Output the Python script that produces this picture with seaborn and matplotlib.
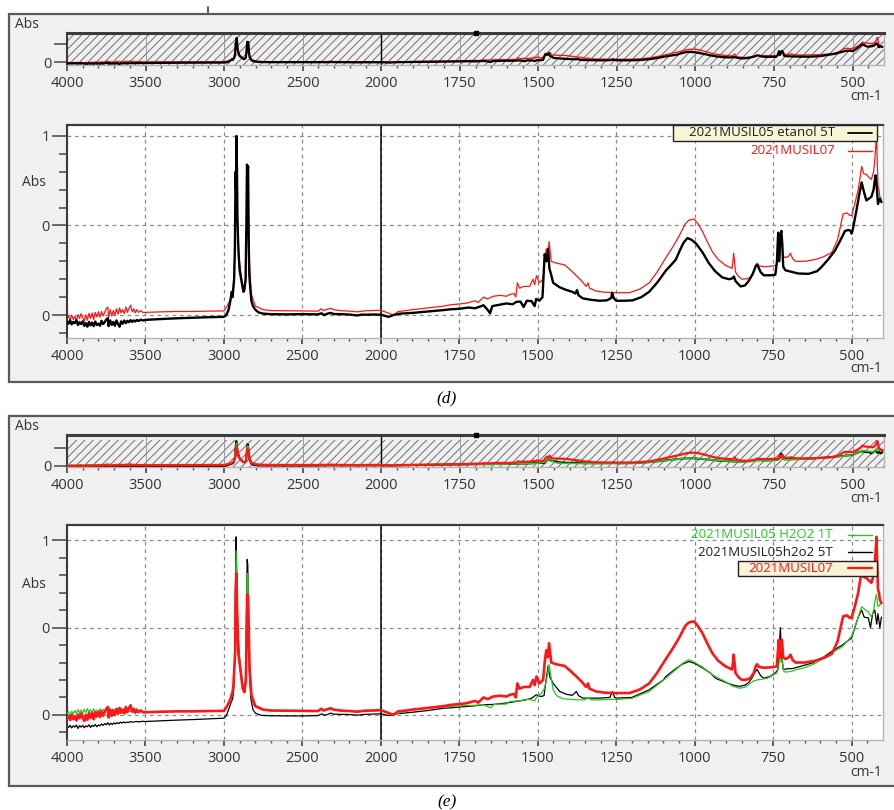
import numpy as np
import pandas as pd
import matplotlib
matplotlib.use("Agg")
import matplotlib.pyplot as plt
import seaborn as sns
from matplotlib.patches import Rectangle
from matplotlib.lines import Line2D
from matplotlib.ticker import FixedLocator, FixedFormatter, NullFormatter

# ---------------------------------------------------------------- spectra (wavenumber, absorbance)
spec_etanol5t = [
    (4000, -0.035), (3990, -0.048), (3980, -0.030), (3970, -0.052), (3960, -0.038), (3950, -0.045),
    (3940, -0.028), (3930, -0.055), (3920, -0.040), (3910, -0.050), (3900, -0.035), (3890, -0.060),
    (3880, -0.045), (3870, -0.065), (3860, -0.038), (3850, -0.058), (3840, -0.042), (3830, -0.062),
    (3820, -0.036), (3810, -0.055), (3800, -0.048), (3790, -0.060), (3780, -0.032), (3770, -0.050),
    (3760, -0.040), (3750, -0.025), (3740, -0.018), (3735, -0.062), (3725, -0.030), (3715, -0.055),
    (3705, -0.038), (3695, -0.060), (3685, -0.030), (3675, -0.050), (3665, -0.065), (3655, -0.035),
    (3645, -0.048), (3635, -0.030), (3625, -0.045), (3615, -0.032), (3605, -0.040), (3595, -0.028),
    (3585, -0.038), (3575, -0.030), (3565, -0.036), (3555, -0.027), (3545, -0.033), (3530, -0.026),
    (3515, -0.030), (3500, -0.027), (3400, -0.022), (3300, -0.018), (3200, -0.015), (3100, -0.012),
    (3000, -0.010), (2985, 0.000), (2970, 0.030), (2960, 0.075), (2950, 0.130), (2945, 0.100),
    (2940, 0.150), (2935, 0.200), (2930, 0.380), (2926, 0.800), (2923, 0.700), (2920, 1.000),
    (2917, 0.820), (2914, 0.550), (2910, 0.420), (2905, 0.320), (2900, 0.250), (2890, 0.200),
    (2880, 0.150), (2875, 0.130), (2870, 0.140), (2862, 0.200), (2857, 0.500), (2853, 0.840),
    (2850, 0.800), (2846, 0.830), (2842, 0.400), (2838, 0.220), (2832, 0.150), (2825, 0.080),
    (2815, 0.050), (2800, 0.030), (2780, 0.015), (2750, 0.008), (2700, 0.005), (2600, 0.004),
    (2500, 0.005), (2400, 0.004), (2380, 0.010), (2360, 0.000), (2340, 0.008), (2320, 0.012),
    (2300, 0.006), (2250, 0.005), (2200, 0.003), (2150, -0.002), (2120, 0.003), (2100, 0.002),
    (2050, 0.003), (2000, 0.002), (1975, -0.010), (1960, 0.000), (1940, 0.008), (1900, 0.012),
    (1850, 0.020), (1800, 0.028), (1779, 0.032), (1750, 0.035), (1720, 0.042), (1700, 0.038),
    (1680, 0.050), (1673, 0.055), (1660, 0.030), (1652, 0.010), (1645, 0.050), (1620, 0.058),
    (1600, 0.065), (1580, 0.060), (1568, 0.074), (1555, 0.075), (1545, 0.045), (1535, 0.080),
    (1520, 0.078), (1510, 0.050), (1505, 0.090), (1495, 0.080), (1485, 0.100), (1478, 0.340),
    (1472, 0.300), (1467, 0.370), (1463, 0.260), (1458, 0.230), (1451, 0.180), (1430, 0.155),
    (1409, 0.140), (1390, 0.130), (1380, 0.120), (1375, 0.140), (1370, 0.110), (1356, 0.093),
    (1330, 0.085), (1303, 0.080), (1280, 0.082), (1266, 0.095), (1263, 0.125), (1258, 0.095),
    (1250, 0.080), (1225, 0.080), (1198, 0.082), (1170, 0.100), (1145, 0.130), (1120, 0.180),
    (1091, 0.250), (1075, 0.280), (1060, 0.310), (1045, 0.370), (1035, 0.405), (1023, 0.430),
    (1010, 0.420), (996, 0.400), (975, 0.350), (955, 0.290), (935, 0.245), (912, 0.210),
    (890, 0.200), (880, 0.205), (875, 0.215), (870, 0.190), (854, 0.160), (840, 0.165),
    (828, 0.190), (815, 0.230), (805, 0.275), (800, 0.280), (790, 0.240), (780, 0.222),
    (760, 0.222), (743, 0.225), (738, 0.300), (734, 0.460), (731, 0.300), (727, 0.440),
    (724, 0.470), (721, 0.400), (718, 0.270), (711, 0.250), (700, 0.245), (690, 0.240),
    (670, 0.232), (637, 0.230), (610, 0.245), (595, 0.270), (575, 0.310), (553, 0.360),
    (535, 0.420), (521, 0.470), (510, 0.475), (503, 0.470), (500, 0.455), (496, 0.480),
    (484, 0.590), (475, 0.680), (468, 0.740), (461, 0.690), (453, 0.640), (445, 0.650),
    (437, 0.660), (430, 0.700), (424, 0.780), (421, 0.740), (416, 0.620), (413, 0.640),
    (410, 0.650), (405, 0.630),
]

spec_musil07 = [
    (4000, -0.020), (3990, -0.005), (3980, -0.030), (3970, 0.000), (3960, -0.025), (3950, -0.008),
    (3940, -0.032), (3930, 0.002), (3920, -0.020), (3910, 0.008), (3900, -0.015), (3890, -0.035),
    (3880, 0.000), (3870, -0.028), (3860, 0.010), (3850, -0.018), (3840, 0.012), (3830, -0.025),
    (3820, 0.015), (3810, -0.010), (3800, 0.018), (3790, -0.012), (3780, 0.020), (3770, -0.005),
    (3760, 0.015), (3750, 0.035), (3740, 0.045), (3735, -0.015), (3725, 0.030), (3715, -0.005),
    (3705, 0.025), (3695, 0.000), (3685, 0.035), (3675, 0.005), (3665, 0.040), (3655, 0.012),
    (3645, 0.030), (3635, 0.008), (3625, 0.045), (3615, 0.015), (3605, 0.038), (3595, 0.055),
    (3585, 0.018), (3575, 0.035), (3565, 0.012), (3555, 0.030), (3545, 0.015), (3530, 0.025),
    (3515, 0.014), (3500, 0.015), (3400, 0.018), (3300, 0.020), (3200, 0.020), (3100, 0.022),
    (3000, 0.023), (2980, 0.050), (2960, 0.086), (2945, 0.130), (2940, 0.160), (2932, 0.300),
    (2928, 0.370), (2925, 0.700), (2920, 0.810), (2916, 0.600), (2908, 0.350), (2895, 0.260),
    (2880, 0.150), (2870, 0.130), (2860, 0.200), (2855, 0.500), (2852, 0.690), (2846, 0.680),
    (2840, 0.400), (2836, 0.260), (2825, 0.115), (2800, 0.050), (2750, 0.030), (2700, 0.025),
    (2600, 0.024), (2500, 0.023), (2400, 0.022), (2380, 0.035), (2365, 0.025), (2350, 0.030),
    (2320, 0.038), (2300, 0.030), (2250, 0.024), (2200, 0.022), (2150, 0.018), (2100, 0.024),
    (2050, 0.025), (2000, 0.027), (1975, 0.010), (1960, 0.000), (1945, 0.020), (1920, 0.025),
    (1900, 0.030), (1850, 0.040), (1800, 0.050), (1779, 0.057), (1750, 0.062), (1726, 0.067),
    (1700, 0.080), (1690, 0.070), (1673, 0.100), (1660, 0.090), (1642, 0.105), (1620, 0.110),
    (1600, 0.105), (1589, 0.115), (1575, 0.120), (1570, 0.100), (1565, 0.180), (1558, 0.150),
    (1545, 0.160), (1526, 0.160), (1515, 0.200), (1510, 0.170), (1504, 0.220), (1495, 0.180),
    (1483, 0.200), (1478, 0.300), (1473, 0.370), (1468, 0.330), (1464, 0.410), (1457, 0.300),
    (1441, 0.290), (1414, 0.280), (1395, 0.250), (1377, 0.220), (1360, 0.190), (1346, 0.160),
    (1340, 0.180), (1335, 0.150), (1314, 0.134), (1290, 0.128), (1261, 0.125), (1235, 0.125),
    (1208, 0.125), (1175, 0.145), (1145, 0.180), (1120, 0.240), (1092, 0.320), (1070, 0.380),
    (1050, 0.440), (1030, 0.510), (1018, 0.530), (1002, 0.536), (990, 0.510), (976, 0.470),
    (960, 0.410), (944, 0.354), (925, 0.310), (902, 0.278), (881, 0.260), (878, 0.300),
    (876, 0.345), (873, 0.300), (870, 0.240), (860, 0.215), (849, 0.200), (835, 0.202),
    (823, 0.210), (812, 0.240), (805, 0.280), (801, 0.290), (795, 0.275), (780, 0.270),
    (760, 0.272), (738, 0.278), (735, 0.360), (732, 0.430), (729, 0.330), (725, 0.420),
    (722, 0.430), (718, 0.330), (711, 0.320), (700, 0.330), (695, 0.345), (688, 0.315),
    (679, 0.300), (650, 0.300), (616, 0.310), (590, 0.325), (563, 0.350), (545, 0.420),
    (535, 0.500), (527, 0.565), (515, 0.570), (505, 0.555), (500, 0.556), (490, 0.620),
    (479, 0.700), (472, 0.780), (468, 0.830), (462, 0.790), (453, 0.785), (445, 0.770),
    (437, 0.757), (430, 0.800), (426, 0.870), (423, 0.950), (421, 1.020), (419, 0.900),
    (416, 0.720), (413, 0.700), (410, 0.660), (405, 0.640),
]

spec_h2o2_5t = [
    (4000, -0.065), (3990, -0.072), (3980, -0.060), (3970, -0.075), (3960, -0.063), (3950, -0.070),
    (3940, -0.058), (3930, -0.078), (3920, -0.062), (3910, -0.070), (3900, -0.060), (3890, -0.074),
    (3880, -0.063), (3870, -0.068), (3860, -0.057), (3850, -0.072), (3840, -0.060), (3830, -0.066),
    (3820, -0.055), (3810, -0.068), (3800, -0.058), (3790, -0.063), (3780, -0.052), (3770, -0.060),
    (3760, -0.050), (3750, -0.057), (3740, -0.045), (3730, -0.058), (3720, -0.048), (3710, -0.055),
    (3700, -0.046), (3690, -0.052), (3680, -0.044), (3670, -0.050), (3660, -0.042), (3650, -0.047),
    (3640, -0.040), (3630, -0.046), (3620, -0.041), (3610, -0.044), (3600, -0.039), (3580, -0.042),
    (3560, -0.038), (3540, -0.040), (3520, -0.037), (3500, -0.038), (3400, -0.034), (3300, -0.030),
    (3200, -0.027), (3100, -0.023), (3000, -0.019), (2985, -0.005), (2970, 0.030), (2955, 0.070),
    (2945, 0.090), (2938, 0.140), (2930, 0.350), (2926, 0.800), (2922, 1.020), (2918, 0.780),
    (2912, 0.500), (2905, 0.380), (2895, 0.250), (2880, 0.160), (2870, 0.130), (2862, 0.180),
    (2856, 0.550), (2852, 0.890), (2848, 0.860), (2843, 0.500), (2838, 0.250), (2828, 0.090),
    (2815, 0.030), (2800, 0.010), (2760, -0.003), (2700, -0.005), (2600, -0.006), (2500, -0.006),
    (2400, -0.004), (2375, 0.006), (2360, -0.002), (2340, 0.002), (2320, 0.010), (2300, 0.004),
    (2200, 0.002), (2150, -0.002), (2100, 0.003), (2000, 0.006), (1975, -0.004), (1960, 0.004),
    (1900, 0.015), (1850, 0.025), (1800, 0.038), (1779, 0.040), (1750, 0.045), (1700, 0.052),
    (1673, 0.058), (1640, 0.060), (1600, 0.068), (1568, 0.077), (1540, 0.085), (1520, 0.095),
    (1505, 0.115), (1490, 0.105), (1480, 0.110), (1472, 0.220), (1467, 0.280), (1462, 0.220),
    (1451, 0.180), (1430, 0.134), (1409, 0.118), (1390, 0.112), (1377, 0.134), (1370, 0.110),
    (1356, 0.096), (1303, 0.096), (1270, 0.100), (1262, 0.134), (1255, 0.100), (1250, 0.096),
    (1200, 0.100), (1145, 0.144), (1100, 0.200), (1092, 0.220), (1060, 0.265), (1040, 0.290),
    (1018, 0.306), (1000, 0.295), (976, 0.270), (950, 0.240), (934, 0.210), (900, 0.185),
    (880, 0.172), (859, 0.163), (840, 0.170), (828, 0.185), (818, 0.210), (808, 0.245),
    (801, 0.260), (790, 0.225), (780, 0.210), (760, 0.220), (743, 0.240), (735, 0.260),
    (730, 0.400), (727, 0.500), (724, 0.360), (718, 0.260), (700, 0.265), (690, 0.265),
    (679, 0.270), (650, 0.285), (620, 0.300), (616, 0.310), (590, 0.330), (563, 0.364),
    (530, 0.400), (500, 0.440), (490, 0.500), (479, 0.560), (468, 0.600), (460, 0.560),
    (447, 0.556), (440, 0.500), (433, 0.580), (426, 0.600), (420, 0.520), (416, 0.580),
    (410, 0.500), (405, 0.560),
]

spec_h2o2_1t = [
    (4000, 0.005), (3990, 0.018), (3980, -0.002), (3970, 0.022), (3960, 0.004), (3950, 0.025),
    (3940, 0.008), (3930, 0.030), (3920, 0.010), (3910, 0.028), (3900, 0.006), (3890, 0.032),
    (3880, 0.012), (3870, 0.036), (3860, 0.015), (3850, 0.030), (3840, 0.010), (3830, 0.034),
    (3820, 0.014), (3810, 0.028), (3800, 0.012), (3790, 0.035), (3780, 0.016), (3770, 0.032),
    (3760, 0.018), (3750, 0.040), (3740, 0.022), (3730, 0.038), (3720, 0.016), (3710, 0.034),
    (3700, 0.020), (3690, 0.036), (3680, 0.014), (3670, 0.030), (3660, 0.018), (3650, 0.033),
    (3640, 0.016), (3630, 0.030), (3620, 0.018), (3610, 0.028), (3600, 0.020), (3580, 0.025),
    (3560, 0.017), (3540, 0.022), (3520, 0.016), (3500, 0.015), (3400, 0.018), (3300, 0.020),
    (3200, 0.021), (3100, 0.022), (3000, 0.023), (2980, 0.050), (2960, 0.090), (2945, 0.140),
    (2935, 0.200), (2930, 0.420), (2926, 0.700), (2922, 0.940), (2918, 0.720), (2912, 0.420),
    (2900, 0.330), (2890, 0.250), (2880, 0.160), (2870, 0.130), (2862, 0.200), (2856, 0.520),
    (2852, 0.810), (2847, 0.790), (2842, 0.450), (2837, 0.260), (2826, 0.110), (2810, 0.060),
    (2800, 0.048), (2760, 0.030), (2700, 0.024), (2600, 0.023), (2500, 0.022), (2400, 0.021),
    (2380, 0.032), (2360, 0.024), (2320, 0.034), (2300, 0.028), (2200, 0.021), (2100, 0.022),
    (2000, 0.025), (1960, 0.002), (1900, 0.030), (1850, 0.040), (1800, 0.046), (1779, 0.048),
    (1750, 0.052), (1700, 0.055), (1673, 0.058), (1650, 0.040), (1640, 0.060), (1600, 0.062),
    (1589, 0.077), (1560, 0.080), (1530, 0.090), (1510, 0.080), (1504, 0.100), (1490, 0.120),
    (1480, 0.145), (1472, 0.200), (1464, 0.290), (1458, 0.220), (1451, 0.145), (1440, 0.110),
    (1420, 0.092), (1400, 0.090), (1377, 0.086), (1350, 0.086), (1340, 0.100), (1330, 0.086),
    (1303, 0.086), (1260, 0.090), (1250, 0.088), (1200, 0.095), (1145, 0.134), (1092, 0.210),
    (1060, 0.260), (1035, 0.300), (1018, 0.316), (1000, 0.300), (976, 0.275), (944, 0.230),
    (902, 0.190), (880, 0.165), (859, 0.153), (840, 0.158), (812, 0.195), (801, 0.200),
    (785, 0.205), (768, 0.210), (738, 0.240), (732, 0.280), (729, 0.355), (725, 0.300),
    (722, 0.320), (716, 0.250), (711, 0.245), (690, 0.250), (679, 0.258), (650, 0.270),
    (616, 0.295), (563, 0.355), (530, 0.390), (500, 0.450), (490, 0.500), (479, 0.560),
    (468, 0.620), (455, 0.600), (447, 0.590), (437, 0.560), (430, 0.600), (426, 0.650),
    (421, 0.690), (416, 0.620), (410, 0.630), (405, 0.640),
]

label_etanol5t = "2021MUSIL05 etanol 5T"
label_musil07 = "2021MUSIL07"
label_h2o2_1t = "2021MUSIL05 H2O2 1T"
label_h2o2_5t = "2021MUSIL05h2o2 5T"

x_major = [4000, 3500, 3000, 2500, 2000, 1750, 1500, 1250, 1000, 750, 500]
x_minor = [v for v in range(3900, 2000, -100) if v % 500] + [v for v in range(1950, 400, -50) if v % 250]
y_major = [0.0, 0.5, 1.0]
y_major_labels = ["0", "0", "1"]
y_minor = [-0.1, 0.1, 0.2, 0.3, 0.4, 0.6, 0.7, 0.8, 0.9]
ov_y_ticks = [0.0, 0.75]
ov_y_labels = ["0", ""]
cursor_wn = 1700
break_wn = 2000

RED = "#ff1616"
GREEN = "#26c626"
BLACK = "#000000"

# ---------------------------------------------------------------- style
sns.set_style("white")
plt.rcParams["font.family"] = ["Open Sans", "DejaVu Sans"]
plt.rcParams["hatch.linewidth"] = 0.6
plt.rcParams["hatch.color"] = "#5e5e5e"

W, H = 894, 810
fig = plt.figure(figsize=(W / 100, H / 100), dpi=100)
fig.patch.set_facecolor("white")


def fx(x):
    return x / W


def fy(y):
    return 1 - y / H


def axes_px(x0, y0, x1, y1):
    return fig.add_axes([fx(x0), fy(y1), (x1 - x0) / W, (y1 - y0) / H])


# wavenumber axis: 4000-2000 drawn at half the scale of 2000-400
# (monotonically increasing in wavenumber; the axis is flipped by set_xlim)
def forward(x):
    x = np.asarray(x, dtype=float)
    return np.where(x >= 2000, (x - 4000) / 2.0, x - 3000)


def inverse(v):
    v = np.asarray(v, dtype=float)
    return np.where(v >= -1000, 4000 + 2.0 * v, v + 3000)


def style_xaxis(ax):
    ax.set_xscale("function", functions=(forward, inverse))
    ax.set_xlim(4000, 400)
    ax.xaxis.set_major_locator(FixedLocator(x_major))
    ax.xaxis.set_major_formatter(FixedFormatter([str(v) for v in x_major]))
    ax.xaxis.set_minor_locator(FixedLocator(x_minor))
    ax.xaxis.set_minor_formatter(NullFormatter())
    ax.tick_params(axis="x", which="major", bottom=True, length=4, width=1.2,
                   direction="out", pad=4, labelsize=10.5, color="#444444",
                   labelcolor="#333333")
    ax.tick_params(axis="x", which="minor", bottom=True, length=2.5, width=1.0,
                   direction="out", color="#555555")


def style_spines(ax, top_w=1.6):
    ax.spines["left"].set_color("#3c3c3c")
    ax.spines["left"].set_linewidth(1.5)
    ax.spines["top"].set_color("#3c3c3c")
    ax.spines["top"].set_linewidth(top_w)
    ax.spines["right"].set_color("#b4b4b4")
    ax.spines["right"].set_linewidth(1.0)
    ax.spines["bottom"].set_color("#b4b4b4")
    ax.spines["bottom"].set_linewidth(1.0)


def draw_curve(ax, spec, color, lw, z):
    df = pd.DataFrame(spec, columns=["wn", "abs"])
    sns.lineplot(data=df, x="wn", y="abs", ax=ax, color=color, linewidth=lw,
                 sort=False, estimator=None, zorder=z)


def overview(ax, ylim, series, strip):
    ax.set_facecolor("#efefef")
    for spec, col, lw, z in series:
        draw_curve(ax, spec, col, lw, z)
    style_xaxis(ax)
    ax.set_ylim(*ylim)
    ax.add_patch(Rectangle((0, 0), 1, 1 - strip, transform=ax.transAxes,
                           facecolor="#efefef", edgecolor="#5e5e5e", hatch="////",
                           linewidth=0, zorder=0))
    for v in x_major[1:]:
        ax.axvline(v, color="#9a9a9a", lw=0.7, zorder=0.5)
    ax.axvline(break_wn, color="black", lw=1.0, zorder=0.6)
    ax.yaxis.set_major_locator(FixedLocator(ov_y_ticks))
    ax.yaxis.set_major_formatter(FixedFormatter(ov_y_labels))
    ax.tick_params(axis="y", which="major", left=True, length=9.5, width=1.1,
                   pad=1.5, labelsize=10.5, color="#444444", labelcolor="#333333")
    ax.plot([cursor_wn], [ylim[1]], marker="s", ms=3.5, color="black",
            clip_on=False, zorder=6)
    ax.set_xlim(4000, 400)
    ax.set_xlabel("")
    ax.set_ylabel("")
    style_spines(ax, top_w=2.2)


def main_panel(ax, ylim, series):
    ax.set_facecolor("white")
    for spec, col, lw, z in series:
        draw_curve(ax, spec, col, lw, z)
    style_xaxis(ax)
    ax.set_ylim(*ylim)
    ax.yaxis.set_major_locator(FixedLocator(y_major))
    ax.yaxis.set_major_formatter(FixedFormatter(y_major_labels))
    ax.yaxis.set_minor_locator(FixedLocator(y_minor))
    ax.tick_params(axis="y", which="major", left=True, length=11, width=1.1,
                   pad=1.5, labelsize=10.5, color="#444444", labelcolor="#333333")
    ax.tick_params(axis="y", which="minor", left=True, length=6, width=1.1,
                   color="#444444")
    ax.grid(True, which="major", axis="both", linestyle=(0, (3, 3)),
            color="#8a8a8a", linewidth=0.9)
    ax.axvline(break_wn, color="black", lw=1.1, zorder=1.5)
    ax.set_xlim(4000, 400)
    ax.set_xlabel("")
    ax.set_ylabel("")
    style_spines(ax)


def window(y0, y1):
    fig.add_artist(Rectangle((fx(9), fy(y1)), fx(900) - fx(9), (y1 - y0) / H,
                             transform=fig.transFigure, facecolor="#f0f0f0",
                             edgecolor="#5a5a5a", linewidth=1.6, zorder=-5))


def ftext(x, y, s, **kw):
    base = dict(ha="left", va="center", fontsize=10, color="#333333", zorder=10)
    base.update(kw)
    fig.text(fx(x), fy(y), s, **base)


def legend_line(x0, x1, y, color, lw):
    fig.add_artist(Line2D([fx(x0), fx(x1)], [fy(y), fy(y)], color=color,
                          linewidth=lw, transform=fig.transFigure, zorder=11))


def legend_box(x0, y0, x1, y1):
    fig.add_artist(Rectangle((fx(x0), fy(y1)), (x1 - x0) / W, (y1 - y0) / H,
                             transform=fig.transFigure, facecolor="#f7f4d8",
                             edgecolor="#222222", linewidth=1.0, zorder=9))


# ---------------------------------------------------------------- panel (d)
window(14, 382)
fig.add_artist(Line2D([fx(208), fx(208)], [fy(7), fy(12)], color="#333333",
                      linewidth=1.2, transform=fig.transFigure))

ax_d_ov = axes_px(67, 33, 884, 65)
overview(ax_d_ov, (-0.11, 1.2),
         [(spec_musil07, RED, 1.0, 2),
          (spec_etanol5t, BLACK, 1.6, 3)], strip=0.0)

ax_d = axes_px(67, 125, 883, 338)
main_panel(ax_d, (-0.128, 1.061),
           [(spec_musil07, RED, 0.9, 2),
            (spec_etanol5t, BLACK, 1.7, 3)])

ftext(15, 25, "Abs")
ftext(22, 182, "Abs")
ftext(882, 97, "cm-1", ha="right")
ftext(882, 369, "cm-1", ha="right")

legend_box(673, 125, 877, 141)
ftext(835, 133, label_etanol5t, ha="right", color="#1e1e1e", fontsize=9.5)
legend_line(848, 872, 133, BLACK, 1.3)
ftext(835, 151, label_musil07, ha="right", color=RED, fontsize=9.5)
legend_line(848, 872, 151, RED, 1.0)

fig.text(fx(447), fy(398), "(d)", ha="center", va="center", fontsize=12.5,
         family="Liberation Serif", style="italic", color="black")

# ---------------------------------------------------------------- panel (e)
window(416, 786)

ax_e_ov = axes_px(67, 435, 884, 467)
overview(ax_e_ov, (-0.06, 1.27),
         [(spec_h2o2_5t, BLACK, 1.4, 2),
          (spec_h2o2_1t, GREEN, 1.2, 3),
          (spec_musil07, RED, 1.6, 4)], strip=0.15)

ax_e = axes_px(67, 525, 883, 740)
main_panel(ax_e, (-0.144, 1.088),
           [(spec_h2o2_5t, BLACK, 0.9, 2),
            (spec_h2o2_1t, GREEN, 0.9, 3),
            (spec_musil07, RED, 1.9, 4)])

ftext(15, 427, "Abs")
ftext(22, 585, "Abs")
ftext(882, 499, "cm-1", ha="right")
ftext(882, 772, "cm-1", ha="right")

ftext(833, 535, label_h2o2_1t, ha="right", color=GREEN, fontsize=9.5)
legend_line(848, 872, 535, GREEN, 1.0)
ftext(833, 552, label_h2o2_5t, ha="right", color="#1e1e1e", fontsize=9.5)
legend_line(848, 872, 552, BLACK, 1.0)
legend_box(738, 561, 877, 576)
ftext(833, 568, label_musil07, ha="right", color=RED, fontsize=9.5)
legend_line(848, 872, 568, RED, 1.6)

fig.text(fx(447), fy(802), "(e)", ha="center", va="center", fontsize=12.5,
         family="Liberation Serif", style="italic", color="black")

fig.savefig("out.png", dpi=100, facecolor="white")
